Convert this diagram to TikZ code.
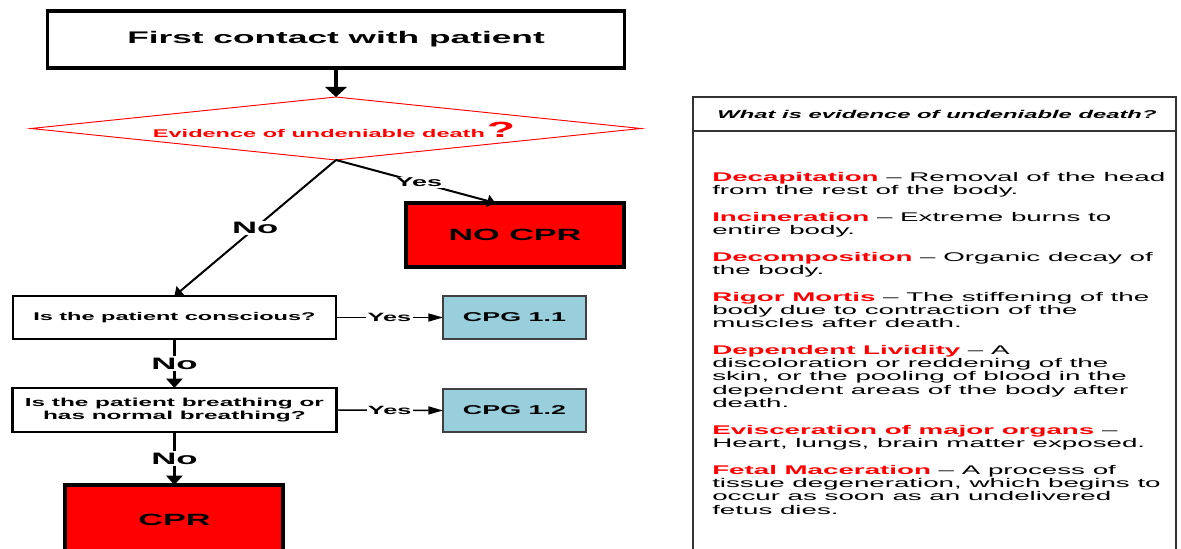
\documentclass[tikz,border=0pt]{standalone}
\usepackage{fontspec}
\setmainfont{Liberation Sans}[FakeStretch=2.1]
\newfontfamily\bodyfont{Liberation Sans}[FakeStretch=2.2,Ligatures=TeX]
\usetikzlibrary{shapes.geometric,arrows.meta,calc}
\definecolor{cpgblue}{RGB}{153,206,221}
\definecolor{alarm}{RGB}{255,0,0}
\newcommand{\fsz}[2]{\fontsize{#1pt}{#2pt}\selectfont}
\newcommand{\term}[1]{\textcolor{alarm}{\textbf{#1}}}
\begin{document}
\begin{tikzpicture}[x=0.75pt,y=-0.75pt,
  wh/.style 2 args={minimum width=#1*0.75pt, minimum height=#2*0.75pt},
  box/.style={draw=black, rectangle, inner sep=0pt, outer sep=0pt, align=center, fill=white},
  heavybox/.style={box, line width=3pt},
  redbox/.style={heavybox, fill=alarm, font=\bfseries\fsz{12.2}{14}},
  qbox/.style={box, line width=1.6pt, font=\bfseries\fsz{8.4}{8}},
  cpgbox/.style={box, draw=black!75, line width=0.9pt, fill=cpgblue, font=\bfseries\fsz{9.6}{11}},
  nolab/.style={fill=white, inner sep=1pt, font=\bfseries\fsz{12.4}{13}},
  yeslab/.style={fill=white, inner sep=1pt, font=\bfseries\fsz{9}{10}},
  item/.style={anchor=north west, align=left, inner sep=0pt, font=\bodyfont\fsz{9.45}{10}},
  bigarrow/.style={line width=3pt, -{Triangle[width=16pt,length=7.5pt]}},
  noarrow/.style={line width=2.3pt, -{Triangle[width=12pt,length=7pt]}},
  diagarrow/.style={line width=1.5pt, -{Triangle[width=9pt,length=6pt]}},
  yesarrow/.style={line width=1.1pt, -{Triangle[width=6pt,length=11pt]}}
]
\useasboundingbox (0,0) rectangle (1181,549);
\clip (0,0) rectangle (1181,549);

% left flow
\node[heavybox, wh={577}{57}, line width=2.4pt, font=\bfseries\fsz{12.6}{14}] (first) at (336,39.5) {First contact with patient};
\node[diamond, draw=alarm, line width=0.7pt, inner sep=0pt, outer sep=0pt, wh={610}{63}] (q) at (336,128.5) {};
\node[inner sep=0pt, text=alarm, font=\bfseries\fsz{8.4}{9}] (qt) at (334,130) {Evidence of undeniable death\,{\fsz{16.5}{17}?}};
\node[redbox, wh={218}{64}] (nocpr) at (515,235) {NO CPR};
\node[qbox, wh={323}{43}] (consc) at (174.4,317.5) {Is the patient conscious?};
\node[cpgbox, wh={143}{43}] (cpg1) at (514.5,317.5) {CPG 1.1};
\node[qbox, wh={324}{44}, line width=2pt, font=\bfseries\fsz{8.7}{8}] (breath) at (174.4,410) {Is the patient breathing or\\has normal breathing?};
\node[cpgbox, wh={143}{43}] (cpg2) at (514.5,410.5) {CPG 1.2};
\node[redbox, wh={218}{70}] (cpr) at (174.4,520) {CPR};

\draw[bigarrow] (first.south) -- (q.north);
\draw[diagarrow] (q.south) -- ($(nocpr.north west)!0.41!(nocpr.north east)$) node[yeslab, font=\bfseries\fsz{9.6}{10}, pos=0.52] (yes0) {Yes};
\draw[diagarrow] (q.south) -- (consc.north) node[nolab, midway] (no0) {No};
\draw[yesarrow] (consc.east) -- (cpg1.west) node[yeslab, midway] (yes1) {Yes};
\draw[yesarrow] (breath.east) -- (cpg2.west) node[yeslab, midway] (yes2) {Yes};
\draw[noarrow] (consc.south) -- (breath.north) node[nolab, midway] (no1) {No};
\draw[noarrow] (breath.south) -- (cpr.north) node[nolab, midway] (no2) {No};

% right panel
\node[draw=black!80, line width=0.9pt, rectangle, inner sep=0pt, outer sep=0pt, wh={483}{470}, anchor=north west] (panel) at (693,97) {};
\coordinate (hl) at (693,131);
\coordinate (hr) at (1176,131);
\draw[black!80, line width=0.9pt] (hl) -- (hr);
\node[inner sep=0pt, font=\bfseries\itshape\fsz{8.5}{9}] (head) at (937,114) {What is evidence of undeniable death?};

\node[item] (i1) at (712,171.8) {\term{Decapitation} \textendash{} Removal of the head\\from the rest of the body.};
\node[item] (i2) at (712,211.8) {\term{Incineration} \textendash{} Extreme burns to\\entire body.};
\node[item] (i3) at (712,251.8) {\term{Decomposition} \textendash{} Organic decay of\\the body.};
\node[item] (i4) at (712,291.8) {\term{Rigor Mortis} \textendash{} The stiffening of the\\body due to contraction of the\\muscles after death.};
\node[item] (i5) at (712,344.8) {\term{Dependent Lividity} \textendash{} A\\discoloration or reddening of the\\skin, or the pooling of blood in the\\dependent areas of the body after\\death.};
\node[item] (i6) at (712,424.8) {\term{Evisceration of major organs} \textendash\\Heart, lungs, brain matter exposed.};
\node[item] (i7) at (712,464.8) {\term{Fetal Maceration} \textendash{} A process of\\tissue degeneration, which begins to\\occur as soon as an undelivered\\fetus dies.};
\end{tikzpicture}
\end{document}
